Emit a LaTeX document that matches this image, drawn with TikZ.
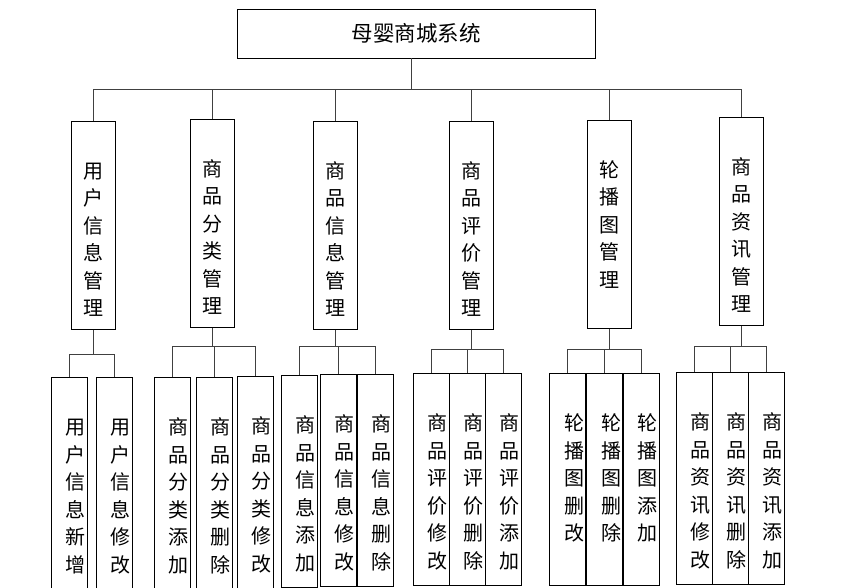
\documentclass[tikz,border=0pt]{standalone}
\usepackage{fontspec}
\newfontfamily\cjk{Noto Sans CJK SC}

\tikzstyle{system} = [rectangle, draw=black, line width=0.8pt,
  minimum width=358pt, minimum height=49pt,
  font=\cjk\fontsize{21.5}{24}\selectfont]
\tikzstyle{module} = [rectangle, draw=black, line width=0.8pt,
  inner sep=0pt, text width=44pt, align=center,
  text height=57pt, text depth=151pt, anchor=north,
  font=\cjk\fontsize{20}{27.4}\selectfont]
\tikzstyle{leaf} = [rectangle, draw=black, line width=0.8pt,
  inner sep=0pt, minimum width=36pt, text width=33pt, align=right,
  text height=57.5pt, text depth=154.5pt, anchor=north,
  font=\cjk\fontsize{20}{27.5}\selectfont]
\tikzstyle{link} = [draw=black!75, line width=0.8pt]

\begin{document}
\begin{tikzpicture}[x=1pt, y=-1pt]
\useasboundingbox (0,0) rectangle (846,587);

%% ---- ROOT ----
\node (sys) [system] at (416, 33.5) {母婴商城系统};
\coordinate (split) at (411, 89);
\draw[link] (split |- sys.south) -- (split);

%% ---- MODULES ----
\node (m1) [module] at (93,  121) {用\\户\\信\\息\\管\\理};
\node (m2) [module] at (212, 119) {商\\品\\分\\类\\管\\理};
\node (m3) [module] at (335, 121) {商\\品\\信\\息\\管\\理};
\node (m4) [module] at (471, 121) {商\\品\\评\\价\\管\\理};
\node (m5) [module] at (609, 120) {轮\\播\\图\\管\\理};
\node (m6) [module] at (741, 117) {商\\品\\资\\讯\\管\\理};

\draw[link] (split) -| (m1.north);
\draw[link] (split) -| (m2.north);
\draw[link] (split) -| (m3.north);
\draw[link] (split) -| (m4.north);
\draw[link] (split) -| (m5.north);
\draw[link] (split) -| (m6.north);

%%=============================================================
%% USER INFO
%%=============================================================
\node (u1) [leaf] at (69,  377) {用\\户\\信\\息\\新\\增};
\node (u2) [leaf] at (114, 377) {用\\户\\信\\息\\修\\改};

\coordinate (j1) at (93, 354);
\draw[link] (m1.south) -- (j1);
\draw[link] (j1) -| (u1.north);
\draw[link] (j1) -| (u2.north);

%%=============================================================
%% GOODS CATEGORY
%%=============================================================
\node (c1) [leaf] at (172, 377) {商\\品\\分\\类\\添\\加};
\node (c2) [leaf] at (214, 377) {商\\品\\分\\类\\删\\除};
\node (c3) [leaf] at (255, 376) {商\\品\\分\\类\\修\\改};

\coordinate (j2) at (212, 346);
\draw[link] (m2.south) -- (j2);
\draw[link] (j2) -| (c1.north);
\draw[link] (j2) -| (c2.north);
\draw[link] (j2) -| (c3.north);

%%=============================================================
%% GOODS INFO
%%=============================================================
\node (g1) [leaf] at (299, 375) {商\\品\\信\\息\\添\\加};
\node (g2) [leaf] at (338, 374) {商\\品\\信\\息\\修\\改};
\node (g3) [leaf] at (375, 374) {商\\品\\信\\息\\删\\除};

\coordinate (j3) at (335, 346);
\draw[link] (m3.south) -- (j3);
\draw[link] (j3) -| (g1.north);
\draw[link] (j3) -| (g2.north);
\draw[link] (j3) -| (g3.north);

%%=============================================================
%% GOODS REVIEW
%%=============================================================
\node (r1) [leaf] at (431, 373) {商\\品\\评\\价\\修\\改};
\node (r2) [leaf] at (467, 373) {商\\品\\评\\价\\删\\除};
\node (r3) [leaf] at (503, 373) {商\\品\\评\\价\\添\\加};

\coordinate (j4) at (471, 349);
\draw[link] (m4.south) -- (j4);
\draw[link] (j4) -| (r1.north);
\draw[link] (j4) -| (r2.north);
\draw[link] (j4) -| (r3.north);

%%=============================================================
%% CAROUSEL
%%=============================================================
\node (b1) [leaf] at (567.5, 373) {轮\\播\\图\\删\\改};
\node (b2) [leaf] at (604.5, 373) {轮\\播\\图\\删\\除};
\node (b3) [leaf] at (641,   373) {轮\\播\\图\\添\\加};

\coordinate (j5) at (609, 349);
\draw[link] (m5.south) -- (j5);
\draw[link] (j5) -| (b1.north);
\draw[link] (j5) -| (b2.north);
\draw[link] (j5) -| (b3.north);

%%=============================================================
%% GOODS NEWS
%%=============================================================
\node (n1) [leaf] at (694, 372) {商\\品\\资\\讯\\修\\改};
\node (n2) [leaf] at (730, 372) {商\\品\\资\\讯\\删\\除};
\node (n3) [leaf] at (766, 372) {商\\品\\资\\讯\\添\\加};

\coordinate (j6) at (741, 346);
\draw[link] (m6.south) -- (j6);
\draw[link] (j6) -| (n1.north);
\draw[link] (j6) -| (n2.north);
\draw[link] (j6) -| (n3.north);

\end{tikzpicture}
\end{document}
